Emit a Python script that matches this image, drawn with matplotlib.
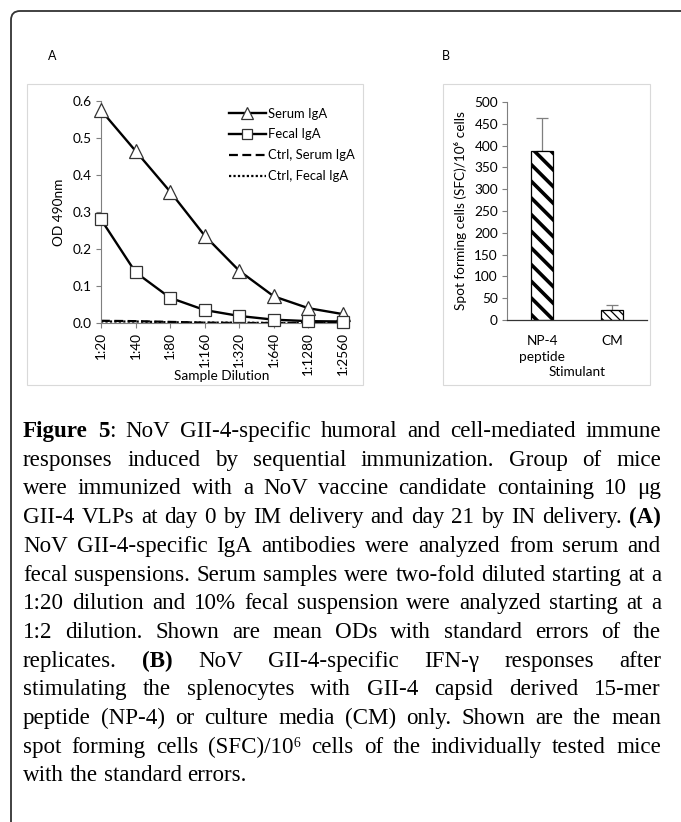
import matplotlib
matplotlib.use("Agg")
import matplotlib.pyplot as plt
from matplotlib.patches import FancyBboxPatch, Rectangle

# ---- data -------------------------------------------------------------
dilutions = ["1:20", "1:40", "1:80", "1:160", "1:320", "1:640", "1:1280", "1:2560"]
serum_iga = [0.575, 0.465, 0.355, 0.236, 0.141, 0.072, 0.040, 0.024]
fecal_iga = [0.280, 0.137, 0.068, 0.035, 0.019, 0.009, 0.005, 0.004]
ctrl_serum = [0.006, 0.005, 0.003, 0.001, 0.000, 0.000, 0.000, 0.000]
ctrl_fecal = [0.004, 0.004, 0.002, 0.001, 0.001, 0.000, 0.000, 0.000]

stimulants = ["NP-4\npeptide", "CM"]
sfc_mean = [387, 24]
sfc_err = [77, 11]

caption_lines = [
    [[("Figure", True)], [("5", True), (":", False)], "NoV", "GII-4-specific", "humoral", "and",
     "cell-mediated", "immune"],
    "responses induced by sequential immunization. Group of mice",
    "were immunized with a NoV vaccine candidate containing 10 \u03bcg",
    "GII-4 VLPs at day 0 by IM delivery and day 21 by IN delivery.".split() + [[("(A)", True)]],
    "NoV GII-4-specific IgA antibodies were analyzed from serum and",
    "fecal suspensions. Serum samples were two-fold diluted starting at a",
    "1:20 dilution and 10% fecal suspension were analyzed starting at a",
    "1:2 dilution. Shown are mean ODs with standard errors of the",
    ["replicates.", [("(B)", True)]] + "NoV GII-4-specific IFN-\u03b3 responses after".split(),
    "stimulating the splenocytes with GII-4 capsid derived 15-mer",
    "peptide (NP-4) or culture media (CM) only. Shown are the mean",
    "spot forming cells (SFC)/10\u2076 cells of the individually tested mice",
    "with the standard errors.",
]

W, H = 681, 822
plt.rcParams["font.family"] = ["Lato", "DejaVu Sans"]
fig = plt.figure(figsize=(W / 100, H / 100), dpi=100)


def fx(px):
    return px / W


def fy(py):
    return 1 - py / H


# outer rounded border (open to the right and bottom)
fig.patches.append(FancyBboxPatch((0.11, -0.3), 7.2, 8.11 + 0.3,
                                  boxstyle="round,pad=0,rounding_size=0.09",
                                  transform=fig.dpi_scale_trans, fill=False,
                                  edgecolor="#333333", linewidth=1.3))
# light panel frames
for x0, x1 in [(27, 363), (443, 650)]:
    fig.patches.append(Rectangle((fx(x0), fy(385)), fx(x1) - fx(x0), fy(84) - fy(385),
                                 transform=fig.transFigure, fill=False,
                                 edgecolor="#d9d9d9", linewidth=0.8))

fig.text(fx(52), fy(56), "A", fontsize=9, ha="center", va="center")
fig.text(fx(446), fy(56), "B", fontsize=9, ha="center", va="center")

tick_fs = 9.8
leg_fs = 9.4

# ---- panel A ----------------------------------------------------------
axa = fig.add_axes([fx(101), fy(323), fx(343) - fx(101), fy(101) - fy(323)])
xs = range(len(dilutions))
axa.plot(xs, ctrl_serum, color="black", linestyle=(0, (4, 2)), linewidth=1.6,
         label="Ctrl, Serum IgA", zorder=2)
axa.plot(xs, ctrl_fecal, color="black", linestyle=(0, (1, 1)), linewidth=1.6,
         label="Ctrl, Fecal IgA", zorder=2)
axa.plot(xs, serum_iga, color="black", linewidth=1.7, marker="^", markersize=10.5,
         markerfacecolor="white", markeredgecolor="#333333", markeredgewidth=0.9,
         label="Serum IgA", zorder=3, clip_on=False)
axa.plot(xs, fecal_iga, color="black", linewidth=1.7, marker="s", markersize=9,
         markerfacecolor="white", markeredgecolor="#333333", markeredgewidth=0.9,
         label="Fecal IgA", zorder=3, clip_on=False)
axa.set_xlim(0, len(dilutions) - 1)
axa.set_ylim(0, 0.6)
axa.set_yticks([0, 0.1, 0.2, 0.3, 0.4, 0.5, 0.6])
axa.set_yticklabels(["0.0", "0.1", "0.2", "0.3", "0.4", "0.5", "0.6"])
axa.set_xticks(list(xs))
axa.set_xticklabels(dilutions, rotation=90)
axa.tick_params(labelsize=tick_fs, length=3.5, width=0.8, color="#7f7f7f", pad=3)
for s in ["top", "right"]:
    axa.spines[s].set_visible(False)
for s in ["left", "bottom"]:
    axa.spines[s].set_color("#7f7f7f")
    axa.spines[s].set_linewidth(0.8)
axa.patch.set_visible(False)
axa.set_ylabel("OD 490nm", fontsize=tick_fs, labelpad=6)
axa.set_xlabel("Sample Dilution", fontsize=tick_fs)
axa.xaxis.set_label_coords(0.5, -0.21)
handles, labels = axa.get_legend_handles_labels()
order = [2, 3, 0, 1]
axa.legend([handles[i] for i in order], [labels[i] for i in order],
           loc="upper left", bbox_to_anchor=(0.5, 1.0), frameon=False,
           fontsize=leg_fs, handlelength=2.9, handletextpad=0.15,
           labelspacing=0.68, borderaxespad=0.1, markerscale=0.85)

# ---- panel B ----------------------------------------------------------
axb = fig.add_axes([fx(507), fy(320), fx(647) - fx(507), fy(102) - fy(320)])
styles = [("\\\\", 2.6), ("\\\\\\\\", 0.9)]
for i, (m, e) in enumerate(zip(sfc_mean, sfc_err)):
    plt.rcParams["hatch.linewidth"] = styles[i][1]
    bar = axb.bar(i, m, width=0.31, color="white", edgecolor="black",
                  linewidth=0.9, hatch=styles[i][0], zorder=2)
    for p in bar:
        if hasattr(p, "set_hatch_linewidth"):
            p.set_hatch_linewidth(styles[i][1])
    axb.errorbar(i, m, yerr=[[0], [e]], fmt="none", ecolor="#7f7f7f",
                 elinewidth=0.9, capsize=4, capthick=0.9, zorder=1)
axb.set_xlim(-0.5, 1.5)
axb.set_ylim(0, 500)
axb.set_yticks(range(0, 501, 50))
axb.set_xticks(range(len(stimulants)))
axb.set_xticklabels(stimulants, linespacing=1.35)
axb.tick_params(axis="y", labelsize=tick_fs, length=3.5, width=0.8, color="#7f7f7f", pad=3)
axb.tick_params(axis="x", labelsize=tick_fs, length=0, pad=11)
for s in ["top", "right"]:
    axb.spines[s].set_visible(False)
axb.spines["left"].set_color("#7f7f7f")
axb.spines["left"].set_linewidth(0.8)
axb.spines["bottom"].set_color("#333333")
axb.spines["bottom"].set_linewidth(0.9)
axb.patch.set_visible(False)
axb.set_ylabel("Spot forming cells (SFC)/10\u2076 cells", fontsize=tick_fs, labelpad=5)
axb.set_xlabel("Stimulant", fontsize=tick_fs)
axb.xaxis.set_label_coords(0.5, -0.21)

# ---- caption (justified) ----------------------------------------------
cap_font = ["Liberation Serif", "DejaVu Serif"]
fs0 = 15.0
left_px, right_px = 23, 661
base0, step = 437, 28.7
renderer = fig.canvas.get_renderer()


def seg_list(word):
    if isinstance(word, str):
        return [(word, False)]
    return word


def text_w(txt, fs, bold=False):
    t = fig.text(0, 0, txt, fontsize=fs, family=cap_font,
                 fontweight="bold" if bold else "normal")
    w = t.get_window_extent(renderer).width
    t.remove()
    return w


lines = []
for line in caption_lines:
    words = line.split() if isinstance(line, str) else line
    lines.append([seg_list(w) for w in words])

# scale font so the widest line (at natural spacing) just fills the column
space0 = text_w("a a", fs0) - text_w("aa", fs0)
natural = []
for words in lines[:-1]:
    tot = sum(text_w(t, fs0, b) for w in words for t, b in w)
    natural.append(tot + space0 * (len(words) - 1))
cap_fs = fs0 * (right_px - left_px) / max(natural) * 0.995
space_w = space0 * cap_fs / fs0

for li, words in enumerate(lines):
    y = fy(base0 + li * step)
    placed = []
    for w in words:
        segs = []
        for txt, bold in w:
            t = fig.text(0, y, txt, fontsize=cap_fs, family=cap_font,
                         fontweight="bold" if bold else "normal", va="baseline")
            segs.append((t, t.get_window_extent(renderer).width))
        placed.append(segs)
    widths = [sum(wd for _, wd in segs) for segs in placed]
    if li == len(lines) - 1:
        gap = space_w
    else:
        gap = (right_px - left_px - sum(widths)) / (len(placed) - 1)
    x = left_px
    for segs, wsum in zip(placed, widths):
        xx = x
        for t, wd in segs:
            t.set_x(fx(xx))
            xx += wd
        x += wsum + gap

fig.savefig("out.png", dpi=100)
